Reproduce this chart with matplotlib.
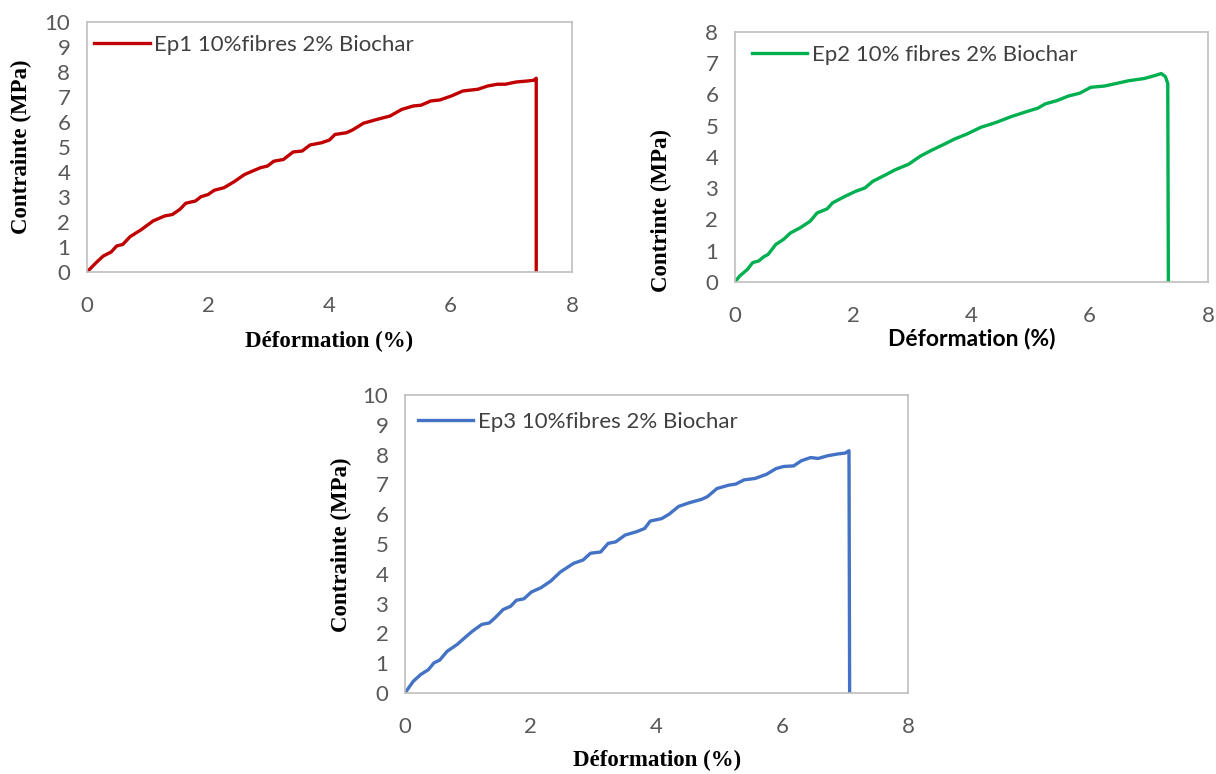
import matplotlib
matplotlib.use("Agg")
import matplotlib.pyplot as plt

plt.rcParams['font.family'] = 'Lato'

# Ep1 : 10% fibres 2% biochar
ep1_def = [0, 0.15, 0.27, 0.4, 0.49, 0.59, 0.71, 0.9, 1.09, 1.28, 1.41, 1.53, 1.63, 1.79, 1.88,
           2.0, 2.1, 2.26, 2.42, 2.6, 2.86, 2.98, 3.08, 3.24, 3.4, 3.55, 3.68, 3.87, 4.0, 4.09,
           4.28, 4.38, 4.56, 4.78, 5.0, 5.19, 5.38, 5.51, 5.67, 5.82, 6.01, 6.2, 6.45, 6.61,
           6.77, 6.9, 7.08, 7.27, 7.37, 7.41, 7.41]
ep1_con = [0, 0.37, 0.64, 0.8, 1.04, 1.1, 1.41, 1.7, 2.04, 2.24, 2.3, 2.5, 2.75, 2.84, 3.01,
           3.1, 3.27, 3.37, 3.6, 3.9, 4.17, 4.24, 4.43, 4.5, 4.8, 4.84, 5.08, 5.17, 5.28, 5.5,
           5.57, 5.68, 5.95, 6.1, 6.24, 6.5, 6.64, 6.67, 6.84, 6.88, 7.04, 7.24, 7.31, 7.44,
           7.51, 7.51, 7.6, 7.64, 7.67, 7.75, 0]

# Ep2
ep2_def = [0, 0.08, 0.21, 0.3, 0.4, 0.49, 0.56, 0.69, 0.82, 0.94, 1.1, 1.27, 1.39, 1.56, 1.65,
           1.84, 2.04, 2.2, 2.33, 2.55, 2.71, 2.94, 3.13, 3.32, 3.52, 3.71, 3.93, 4.16, 4.41,
           4.67, 4.93, 5.12, 5.25, 5.44, 5.64, 5.83, 6.02, 6.25, 6.47, 6.66, 6.92, 7.11, 7.21,
           7.28, 7.32, 7.33]
ep2_con = [0, 0.19, 0.4, 0.62, 0.67, 0.81, 0.88, 1.2, 1.36, 1.57, 1.73, 1.94, 2.21, 2.34, 2.53,
           2.72, 2.9, 3.01, 3.22, 3.43, 3.59, 3.77, 4.02, 4.21, 4.39, 4.57, 4.74, 4.95, 5.1,
           5.29, 5.45, 5.56, 5.7, 5.8, 5.95, 6.04, 6.23, 6.27, 6.36, 6.44, 6.51, 6.61, 6.67,
           6.57, 6.35, 0]

# Ep3
ep3_def = [0, 0.13, 0.25, 0.37, 0.46, 0.55, 0.67, 0.83, 0.98, 1.07, 1.22, 1.34, 1.43, 1.56,
           1.68, 1.77, 1.89, 2.01, 2.16, 2.32, 2.47, 2.68, 2.83, 2.95, 3.11, 3.23, 3.35, 3.5,
           3.68, 3.81, 3.9, 4.08, 4.2, 4.35, 4.53, 4.72, 4.81, 4.96, 5.14, 5.26, 5.39, 5.57,
           5.75, 5.9, 6.02, 6.18, 6.3, 6.45, 6.57, 6.72, 6.88, 7.0, 7.06, 7.07]
ep3_con = [0, 0.39, 0.62, 0.78, 1.01, 1.1, 1.4, 1.63, 1.91, 2.07, 2.3, 2.35, 2.52, 2.8, 2.91,
           3.11, 3.16, 3.39, 3.53, 3.76, 4.06, 4.35, 4.46, 4.69, 4.73, 5.02, 5.07, 5.3, 5.41,
           5.52, 5.77, 5.85, 6.0, 6.26, 6.39, 6.5, 6.59, 6.86, 6.97, 7.01, 7.15, 7.2, 7.34,
           7.53, 7.6, 7.62, 7.79, 7.9, 7.87, 7.96, 8.02, 8.05, 8.13, 0]

labels = ["Ep1 10%fibres 2% Biochar", "Ep2 10% fibres 2% Biochar", "Ep3 10%fibres 2% Biochar"]
colors = ["#c00000", "#00b050", "#4472c4"]

serif_bold = dict(family='Liberation Serif', fontweight='bold', fontsize=16.5, color='black')
sans_bold = dict(family='Lato', fontweight='bold', fontsize=16.5, color='black')


def panel(ax, x, y, label, color, ymax, ylabel, xlabel_font, ylab_pos, xlab_y, leg_pos):
    ax.plot(x, y, color=color, lw=2.4, label=label, solid_joinstyle='round')
    ax.set_xlim(0, 8)
    ax.set_ylim(0, ymax)
    ax.set_xticks([0, 2, 4, 6, 8])
    ax.set_yticks(range(0, ymax + 1))
    ax.tick_params(length=0, labelsize=16, labelcolor='#595959')
    ax.tick_params(axis='x', pad=17)
    ax.tick_params(axis='y', pad=12)
    for s in ax.spines.values():
        s.set_color('#bfbfbf')
        s.set_linewidth(1.2)
    ax.set_ylabel(ylabel, **serif_bold)
    ax.yaxis.label.set_va('center')
    ax.yaxis.set_label_coords(*ylab_pos)
    ax.set_xlabel("Déformation (%)", **xlabel_font)
    ax.xaxis.label.set_va('center')
    ax.xaxis.set_label_coords(0.5, xlab_y)
    leg = ax.legend(loc='center left', bbox_to_anchor=leg_pos, frameon=False,
                    handlelength=2.5, handletextpad=0.2, borderaxespad=0, borderpad=0,
                    prop=dict(family='Lato', size=16))
    for t in leg.get_texts():
        t.set_color('#404040')


fig = plt.figure(figsize=(12.16, 7.74), dpi=100)
ax1 = fig.add_axes([0.0715, 0.6486, 0.3989, 0.323])
ax2 = fig.add_axes([0.6044, 0.6357, 0.389, 0.323])
ax3 = fig.add_axes([0.3331, 0.1047, 0.4137, 0.385])

panel(ax1, ep1_def, ep1_con, labels[0], colors[0], 10, "Contrainte (MPa)", serif_bold,
      (-0.136, 0.5), -0.276, (0.015, 0.908))
panel(ax2, ep2_def, ep2_con, labels[1], colors[1], 8, "Contrinte (MPa)", sans_bold,
      (-0.156, 0.284), -0.228, (0.035, 0.908))
panel(ax3, ep3_def, ep3_con, labels[2], colors[2], 10, "Contrainte (MPa)", serif_bold,
      (-0.127, 0.497), -0.225, (0.025, 0.909))

plt.savefig("out.png", dpi=100)
